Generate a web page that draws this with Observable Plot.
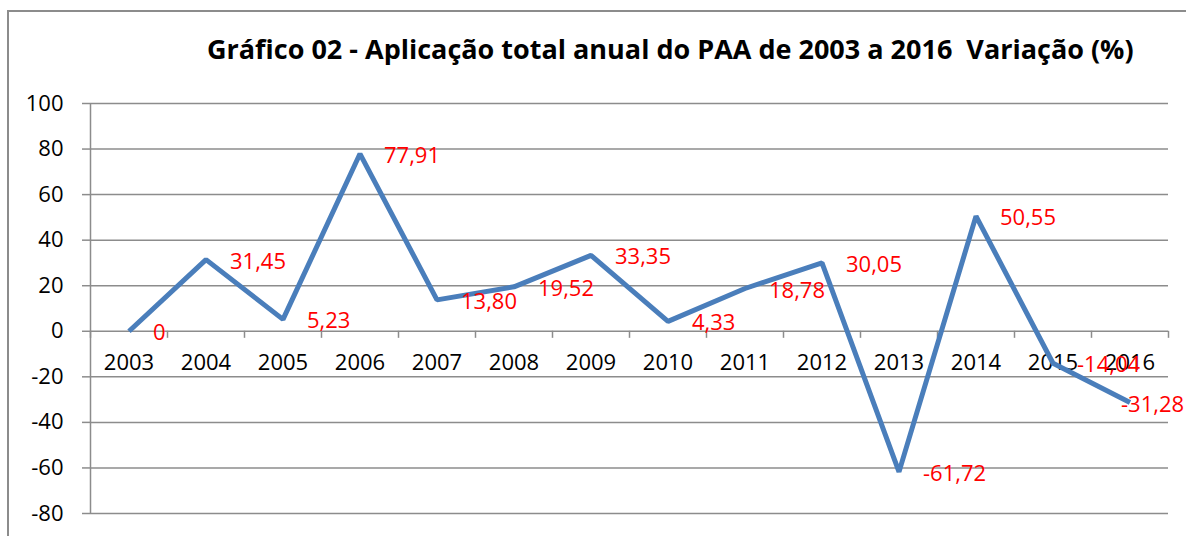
<!DOCTYPE html>
<html>
<head>
<meta charset="utf-8">
<script src="https://cdn.jsdelivr.net/npm/d3@7"></script>
<script src="https://cdn.jsdelivr.net/npm/@observablehq/plot@0.6"></script>
<style>
  html, body { margin: 0; padding: 0; background: #fff; }
  #wrap { position: relative; width: 1186px; height: 536px; overflow: hidden; background: #fff; }
  #border { position: absolute; left: 7px; top: 10px; width: 1300px; height: 700px;
            border-left: 2px solid #8c8c8c; border-top: 2px solid #8c8c8c; }
  #title { position: absolute; left: 207px; top: 30px; white-space: nowrap;
           font-family: "Open Sans", sans-serif; font-weight: bold; font-size: 27px; color: #000; }
  #chart { position: absolute; left: 0; top: 0; }
</style>
</head>
<body>
<div id="wrap">
  <div id="border"></div>
  <div id="title">Gráfico 02 - Aplicação total anual do PAA de 2003 a 2016&nbsp; Variação (%)</div>
  <div id="chart"></div>
</div>
<script>
const years = [2003, 2004, 2005, 2006, 2007, 2008, 2009, 2010, 2011, 2012, 2013, 2014, 2015, 2016];
const variacao = [0, 31.45, 5.23, 77.91, 13.80, 19.52, 33.35, 4.33, 18.78, 30.05, -61.72, 50.55, -14.04, -31.28];
const yTicks = [-80, -60, -40, -20, 0, 20, 40, 60, 80, 100];

const data = years.map((year, i) => ({year, value: variacao[i]}));
const fmt = v => v === 0 ? "0" : v.toFixed(2).replace(".", ",");
const boundaries = [...years.map(y => y - 0.5), years[years.length - 1] + 0.5];
const font = "Open Sans, sans-serif";

const chart = Plot.plot({
  width: 1186,
  height: 536,
  marginLeft: 90,
  marginRight: 18,
  marginTop: 103,
  marginBottom: 23,
  style: {fontFamily: font, fontSize: "22px", background: "transparent"},
  x: {type: "linear", domain: [years[0] - 0.5, years[years.length - 1] + 0.5], axis: null},
  y: {domain: [-80, 100], axis: null},
  marks: [
    Plot.ruleY(yTicks, {stroke: "#8c8c8c", strokeWidth: 1.5}),
    Plot.ruleX([years[0] - 0.5], {y1: -80, y2: 100, stroke: "#8c8c8c", strokeWidth: 1.5}),
    Plot.axisY({ticks: yTicks, tickSize: 8, tickPadding: 19, stroke: "#8c8c8c", strokeWidth: 1.5,
      fill: "#000", fontSize: 22, tickFormat: d => String(d), label: null}),
    Plot.ruleX(boundaries, {x: d => d, y1: 0, y2: -3.1, stroke: "#8c8c8c", strokeWidth: 1.5}),
    Plot.text(years, {x: d => d, y: 0, dy: 32, text: d => String(d), fill: "#000", fontSize: 22}),
    Plot.line(data, {x: "year", y: "value", stroke: "#4a7ebb", strokeWidth: 5, strokeLinejoin: "miter", strokeLinecap: "butt"}),
    Plot.text(data.slice(0, -1), {x: "year", y: "value", text: d => fmt(d.value), dx: 24, dy: 2,
      textAnchor: "start", fill: "#ff0000", fontSize: 22}),
    Plot.text(data.slice(-1), {x: "year", y: "value", text: d => fmt(d.value), dx: -9, dy: 2,
      textAnchor: "start", fill: "#ff0000", fontSize: 22})
  ]
});
document.getElementById("chart").appendChild(chart);
</script>
</body>
</html>
